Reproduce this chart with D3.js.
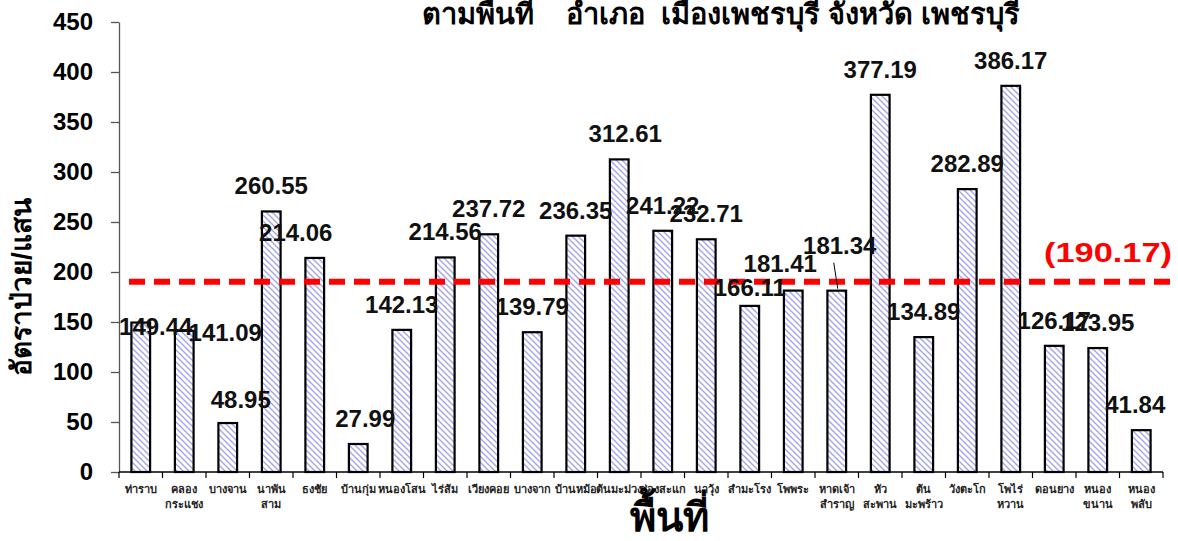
<!DOCTYPE html>
<html>
<head>
<meta charset="utf-8">
<script src="https://cdn.jsdelivr.net/npm/d3@7"></script>
<style>
  html, body { margin: 0; padding: 0; background: #fff; }
  svg { display: block; font-family: "Liberation Sans", Arial, "Noto Sans", sans-serif; }
</style>
</head>
<body>
<svg id="chart" width="1178" height="541"></svg>
<script>
(function() {
  'use strict';

  // Areas (tambon), split into display lines
  const areas = [
    ['ท่าราบ'], ['คลอง', 'กระแชง'], ['บางจาน'], ['นาพัน', 'สาม'], ['ธงชัย'],
    ['บ้านกุ่ม'], ['หนองโสน'], ['ไร่ส้ม'], ['เวียงคอย'], ['บางจาก'],
    ['บ้านหม้อ'], ['ต้นมะม่วง'], ['ช่องสะแก'], ['นาวุ้ง'], ['สำมะโรง'],
    ['โพพระ'], ['หาดเจ้า', 'สำราญ'], ['หัว', 'สะพาน'], ['ต้น', 'มะพร้าว'], ['วังตะโก'],
    ['โพไร่', 'หวาน'], ['ดอนยาง'], ['หนอง', 'ขนาน'], ['หนอง', 'พลับ']
  ];

  // Rate per 100,000
  const rates = [
    149.44, 141.09, 48.95, 260.55, 214.06,
    27.99, 142.13, 214.56, 237.72, 139.79,
    236.35, 312.61, 241.22, 232.71, 166.11,
    181.41, 181.34, 377.19, 134.89, 282.89,
    386.17, 126.17, 123.95, 41.84
  ];

  const average = 190.17;
  const yTicks = [0, 50, 100, 150, 200, 250, 300, 350, 400, 450];

  // Manual label nudges [dx, dy] as placed in the original
  const labelShift = [
    [15, 29], [41, 27], [13, 2], [0, 0], [-19, 0],
    [7, 0], [0, 0], [0, 0], [0, 0], [0, 0],
    [0, 0], [6, 0], [0, 0], [0, 0], [0, 7],
    [-13, -2], [3, -20], [0, 0], [0, 0], [0, 0],
    [0, 0], [0, 0], [0, 0], [-6, 0]
  ];

  const svg = d3.select('#chart');
  const keys = areas.map(a => a.join(''));

  const x = d3.scaleBand().domain(keys).range([119, 1163]).paddingInner(0.57).paddingOuter(0.285);
  const y = d3.scaleLinear().domain([0, 450]).range([472, 22]);

  // Hatch pattern
  const defs = svg.append('defs');
  const pat = defs.append('pattern')
    .attr('id', 'hatch')
    .attr('patternUnits', 'userSpaceOnUse')
    .attr('width', 6).attr('height', 6);
  pat.append('rect').attr('width', 6).attr('height', 6).attr('fill', '#fff');
  pat.append('path')
    .attr('d', 'M-1,-1 L7,7 M-1,5 L1,7 M5,-1 L7,1')
    .attr('stroke', '#a4a4f6')
    .attr('stroke-width', 1.4);

  // Title (top line cut off in the original)
  svg.append('text')
    .attr('x', 721).attr('y', 24)
    .attr('text-anchor', 'middle')
    .attr('font-size', 29).attr('font-weight', 'bold')
    .attr('xml:space', 'preserve')
    .style('white-space', 'pre')
    .text('ตามพื้นที่    อำเภอ  เมืองเพชรบุรี จังหวัด เพชรบุรี');

  // Y axis
  const yAxis = svg.append('g')
    .attr('transform', 'translate(119,0)')
    .call(d3.axisLeft(y).tickValues(yTicks).tickSize(8).tickPadding(18).tickSizeOuter(0));
  yAxis.select('.domain').attr('stroke', '#555').attr('stroke-width', 1.3);
  yAxis.selectAll('.tick line').attr('stroke', '#555').attr('stroke-width', 1.3);
  yAxis.selectAll('.tick text')
    .attr('font-size', 24).attr('font-weight', 'bold')
    .attr('font-family', '"Liberation Sans", Arial, sans-serif')
    .attr('fill', '#000');

  // Bars
  svg.append('g').selectAll('rect')
    .data(rates)
    .enter()
    .append('rect')
    .attr('x', (d, i) => x(keys[i]))
    .attr('y', d => y(d))
    .attr('width', x.bandwidth())
    .attr('height', d => y(0) - y(d))
    .attr('fill', 'url(#hatch)')
    .attr('stroke', '#000')
    .attr('stroke-width', 2.2);

  // X axis line + ticks at category boundaries
  const xg = svg.append('g');
  xg.append('line')
    .attr('x1', 119).attr('x2', 1163)
    .attr('y1', y(0)).attr('y2', y(0))
    .attr('stroke', '#000').attr('stroke-width', 1.5);
  const step = x.step();
  const x0 = x(keys[0]) - x.paddingOuter() * step;
  xg.selectAll('line.tk')
    .data(d3.range(keys.length + 1))
    .enter()
    .append('line')
    .attr('class', 'tk')
    .attr('x1', i => x0 + i * step)
    .attr('x2', i => x0 + i * step)
    .attr('y1', y(0)).attr('y2', y(0) + 6)
    .attr('stroke', '#000').attr('stroke-width', 1.2);

  // X tick labels
  xg.selectAll('text.cat')
    .data(areas)
    .enter()
    .append('text')
    .attr('class', 'cat')
    .attr('text-anchor', 'middle')
    .attr('font-size', 11).attr('font-weight', 'bold')
    .attr('fill', '#222')
    .each(function(lines, i) {
      const t = d3.select(this);
      lines.forEach((ln, j) => {
        t.append('tspan')
          .attr('x', x(keys[i]) + x.bandwidth() / 2)
          .attr('y', 493 + j * 15)
          .text(ln);
      });
    });

  // Average line
  svg.append('line')
    .attr('x1', 129).attr('x2', 1178)
    .attr('y1', y(average)).attr('y2', y(average))
    .attr('stroke', '#ff0000').attr('stroke-width', 6)
    .attr('stroke-dasharray', '16,9');
  svg.append('text')
    .attr('x', 1172).attr('y', y(average) - 20)
    .attr('text-anchor', 'end')
    .attr('font-size', 28).attr('font-weight', 'bold')
    .attr('fill', '#ff0000')
    .attr('textLength', 128)
    .attr('lengthAdjust', 'spacingAndGlyphs')
    .text('(' + average.toFixed(2) + ')');

  // Value labels
  svg.append('g').selectAll('text')
    .data(rates)
    .enter()
    .append('text')
    .attr('x', (d, i) => x(keys[i]) + x.bandwidth() / 2 + labelShift[i][0])
    .attr('y', (d, i) => y(d) - 17 + labelShift[i][1])
    .attr('text-anchor', 'middle')
    .attr('font-size', 24).attr('font-weight', 'bold')
    .attr('fill', '#111')
    .text(d => d.toFixed(2));

  // Leader line for หาดเจ้าสำราญ label
  const li = 16;
  const lx = x(keys[li]) + x.bandwidth() / 2;
  svg.append('line')
    .attr('x1', lx - 3).attr('y1', y(rates[li]) - 28)
    .attr('x2', lx + 1).attr('y2', y(rates[li]) - 2)
    .attr('stroke', '#000').attr('stroke-width', 1);

  // Axis titles
  svg.append('text')
    .attr('transform', 'translate(31,287) rotate(-90)')
    .attr('text-anchor', 'middle')
    .attr('font-size', 28).attr('font-weight', 'bold')
    .text('อัตราป่วย/แสน');

  svg.append('text')
    .attr('x', 669).attr('y', 531)
    .attr('text-anchor', 'middle')
    .attr('font-size', 40).attr('font-weight', 'bold')
    .text('พื้นที่');
})();
</script>
</body>
</html>
